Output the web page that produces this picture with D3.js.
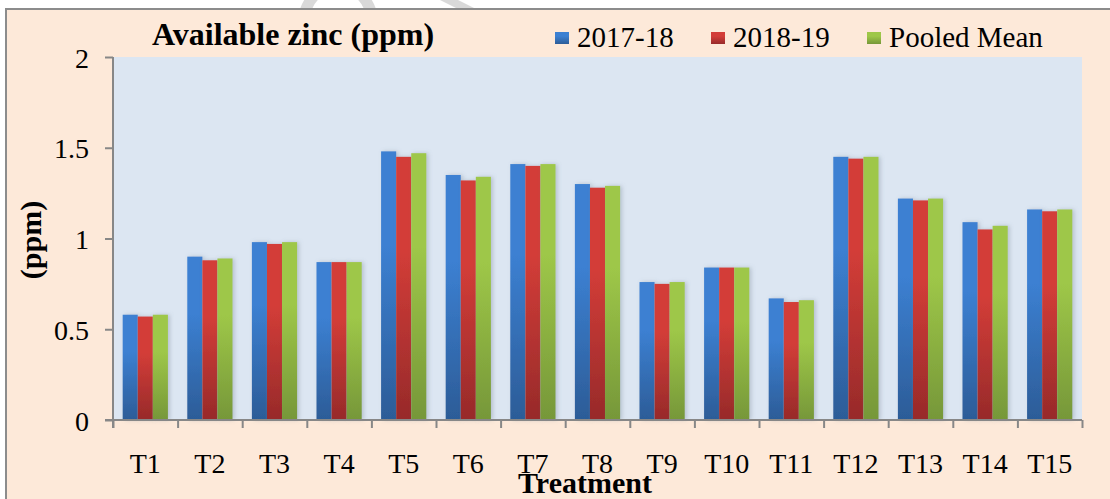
<!DOCTYPE html>
<html>
<head>
<meta charset="utf-8">
<script src="https://cdn.jsdelivr.net/npm/d3@7"></script>
<style>
  body { margin: 0; background: #fff; }
  svg { display: block; font-family: "Liberation Serif", "Times New Roman", serif; }
</style>
</head>
<body>
<div id="chart"></div>
<script>
// values
var categories = ["T1","T2","T3","T4","T5","T6","T7","T8","T9","T10","T11","T12","T13","T14","T15"];
var series = ["2017-18", "2018-19", "Pooled Mean"];
var y2017 = [0.58, 0.90, 0.98, 0.87, 1.48, 1.35, 1.41, 1.30, 0.76, 0.84, 0.67, 1.45, 1.22, 1.09, 1.16];
var y2018 = [0.57, 0.88, 0.97, 0.87, 1.45, 1.32, 1.40, 1.28, 0.75, 0.84, 0.65, 1.44, 1.21, 1.05, 1.15];
var pooled = [0.58, 0.89, 0.98, 0.87, 1.47, 1.34, 1.41, 1.29, 0.76, 0.84, 0.66, 1.45, 1.22, 1.07, 1.16];
var yTicks = [0, 0.5, 1, 1.5, 2];

var colors = {
  "2017-18": ["#3c80d2", "#2c5c97"],
  "2018-19": ["#d33d38", "#972a2a"],
  "Pooled Mean": ["#9ec748", "#769739"]
};

var W = 1110, H = 499;
var plot = {left: 113, right: 1082, top: 57, bottom: 420};
var serif = "'Liberation Serif', 'Times New Roman', serif";

var svg = d3.select("#chart").append("svg")
    .attr("width", W)
    .attr("height", H);

var defs = svg.append("defs");
series.forEach(function(s, i) {
  var g = defs.append("linearGradient")
      .attr("id", "grad" + i)
      .attr("x1", 0).attr("y1", 0).attr("x2", 0).attr("y2", 1);
  g.append("stop").attr("offset", "0%").attr("stop-color", colors[s][0]);
  g.append("stop").attr("offset", "35%").attr("stop-color", colors[s][0]);
  g.append("stop").attr("offset", "100%").attr("stop-color", colors[s][1]);
});
var shadow = defs.append("filter").attr("id", "shadow")
    .attr("x", "-20%").attr("y", "-5%").attr("width", "160%").attr("height", "110%");
shadow.append("feDropShadow")
    .attr("dx", 2).attr("dy", 0).attr("stdDeviation", 2)
    .attr("flood-color", "#6f7c8c").attr("flood-opacity", 0.35);
var lineShadow = defs.append("filter").attr("id", "lshadow")
    .attr("x", "-1%").attr("y", "-200%").attr("width", "102%").attr("height", "500%");
lineShadow.append("feDropShadow")
    .attr("dx", 0).attr("dy", 1.5).attr("stdDeviation", 1)
    .attr("flood-color", "#000").attr("flood-opacity", 0.25);

// faint watermark bits above the frame
svg.append("path")
    .attr("d", "M300,9 A40,40 0 0 1 376,9 L364,9 A28,28 0 0 0 312,9 Z")
    .attr("fill", "#d9d9d9");
svg.append("path")
    .attr("d", "M440,0 L458,0 L476,9 L458,9 Z")
    .attr("fill", "#d9d9d9");

// outer chart area
svg.append("rect")
    .attr("x", 6).attr("y", 9)
    .attr("width", W).attr("height", H)
    .attr("fill", "#fde9d9")
    .attr("stroke", "#8c8c8c")
    .attr("stroke-width", 2);

// plot area
svg.append("rect")
    .attr("x", plot.left).attr("y", plot.top)
    .attr("width", plot.right - plot.left)
    .attr("height", plot.bottom - plot.top)
    .attr("fill", "#dce6f2");

var y = d3.scaleLinear().domain([0, 2]).range([plot.bottom, plot.top]);

var x = d3.scaleBand()
    .domain(categories)
    .range([plot.left, plot.right])
    .paddingInner(0.3)
    .paddingOuter(0.15);

var xs = d3.scaleBand()
    .domain(series)
    .range([0, x.bandwidth()]);

// gridlines
svg.append("g")
    .selectAll("line")
    .data(yTicks.filter(function(d) { return d > 0; }))
    .enter().append("line")
    .attr("x1", plot.left).attr("x2", plot.right)
    .attr("y1", function(d) { return y(d); })
    .attr("y2", function(d) { return y(d); })
    .attr("stroke", "#878787")
    .attr("stroke-width", 2)
    .attr("filter", "url(#lshadow)");

// bars
var rows = categories.map(function(c, i) {
  return {cat: c, vals: [y2017[i], y2018[i], pooled[i]]};
});

var groups = svg.append("g").selectAll("g")
    .data(rows)
    .enter().append("g")
    .attr("transform", function(d) { return "translate(" + x(d.cat) + ",0)"; });

groups.selectAll("rect")
    .data(function(d) { return d.vals.map(function(v, j) { return {s: series[j], j: j, v: v}; }); })
    .enter().append("rect")
    .attr("x", function(d) { return xs(d.s); })
    .attr("width", xs.bandwidth())
    .attr("y", function(d) { return y(d.v); })
    .attr("height", function(d) { return y(0) - y(d.v); })
    .attr("fill", function(d) { return "url(#grad" + d.j + ")"; })
    .attr("filter", "url(#shadow)");

// y axis
var yAxis = svg.append("g")
    .attr("transform", "translate(" + plot.left + ",0)")
    .call(d3.axisLeft(y).tickValues(yTicks).tickFormat(d3.format("")).tickSize(8).tickPadding(16));
yAxis.select(".domain").attr("stroke", "#878787").attr("stroke-width", 2)
    .attr("d", "M0," + plot.top + "V" + (plot.bottom + 8));
yAxis.selectAll(".tick line").attr("stroke", "#878787").attr("stroke-width", 2);
yAxis.selectAll("text")
    .attr("font-size", 28)
    .attr("fill", "#000")
    .attr("dy", "0.36em")
    .style("font-family", serif);

// x axis: tick marks at category boundaries
var xb = d3.scaleLinear().domain([0, categories.length]).range([plot.left, plot.right]);
var xTickAxis = svg.append("g")
    .attr("transform", "translate(0," + plot.bottom + ")")
    .call(d3.axisBottom(xb).tickValues(d3.range(categories.length + 1)).tickFormat("").tickSize(8).tickSizeOuter(0));
xTickAxis.select(".domain").attr("stroke", "#878787").attr("stroke-width", 2)
    .attr("d", "M" + (plot.left - 8) + ",0H" + plot.right);
xTickAxis.selectAll(".tick line").attr("stroke", "#878787").attr("stroke-width", 2);

// x labels
var xAxis = svg.append("g")
    .attr("transform", "translate(0," + plot.bottom + ")")
    .call(d3.axisBottom(x).tickSize(0));
xAxis.select(".domain").remove();
xAxis.selectAll("text")
    .attr("y", 53)
    .attr("dy", 0)
    .attr("font-size", 28)
    .attr("fill", "#000")
    .style("font-family", serif);

// title
svg.append("text")
    .attr("x", 152).attr("y", 45)
    .attr("font-size", 32)
    .attr("font-weight", "bold")
    .text("Available zinc (ppm)");

// legend
var legendX = [555, 711, 867];
var legend = svg.append("g").selectAll("g")
    .data(series)
    .enter().append("g")
    .attr("transform", function(d, i) { return "translate(" + legendX[i] + ",0)"; });
legend.append("rect")
    .attr("x", 0).attr("y", 32)
    .attr("width", 14).attr("height", 12)
    .attr("fill", function(d, i) { return "url(#grad" + i + ")"; });
legend.append("text")
    .attr("x", 22).attr("y", 47)
    .attr("font-size", 29)
    .text(function(d) { return d; });

// axis titles
svg.append("text")
    .attr("transform", "translate(41,240) rotate(-90)")
    .attr("text-anchor", "middle")
    .attr("font-size", 30)
    .attr("font-weight", "bold")
    .text("(ppm)");

svg.append("text")
    .attr("x", 585).attr("y", 493)
    .attr("text-anchor", "middle")
    .attr("font-size", 30)
    .attr("font-weight", "bold")
    .text("Treatment");
</script>
</body>
</html>
